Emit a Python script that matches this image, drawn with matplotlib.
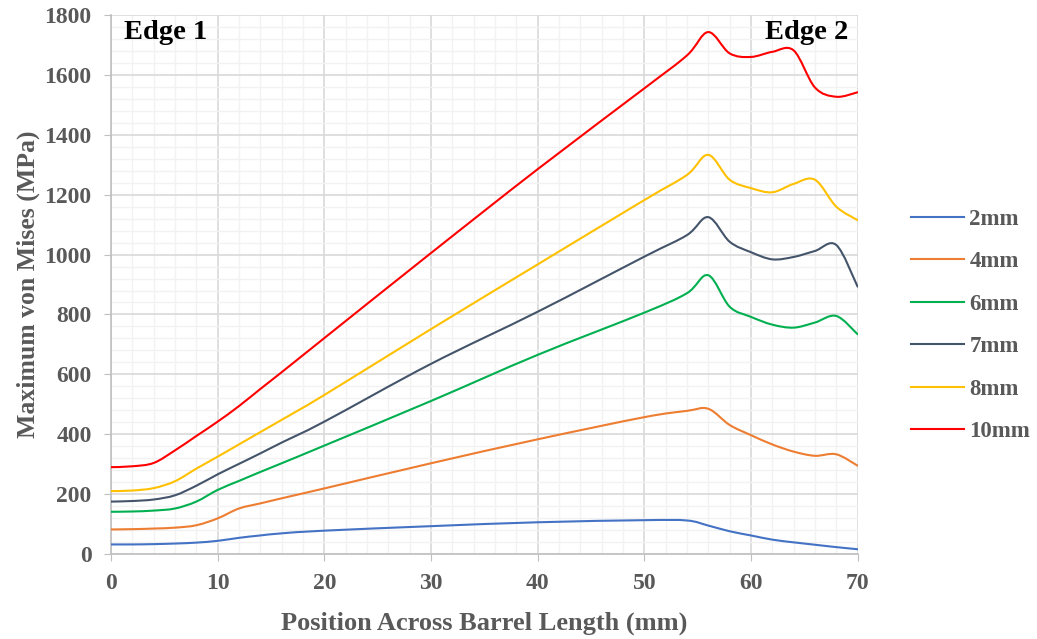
import matplotlib
matplotlib.use("Agg")
import matplotlib.pyplot as plt
from matplotlib.path import Path
from matplotlib.patches import PathPatch
from matplotlib.lines import Line2D
from matplotlib.ticker import MultipleLocator

# position across the barrel (mm)
position = [0, 2, 4, 6, 8, 10, 12, 14, 16, 20, 30, 40, 50,
            54, 56, 58, 60, 62, 64, 66, 68, 70]

# maximum von Mises stress (MPa) for each wall thickness
s_2mm = [32, 32, 33, 35, 38, 44, 54, 62, 69, 78, 93, 106, 113,
         112, 95, 76, 62, 48, 39, 31, 23, 16]
s_4mm = [82, 83, 85, 88, 96, 119, 152, 169, 186, 219, 303, 383, 457,
         478, 485, 431, 397, 366, 342, 328, 333, 295]
s_6mm = [141, 142, 145, 152, 175, 214, 244, 274, 303, 362, 511, 665, 806,
         871, 931, 826, 792, 766, 756, 773, 795, 734]
s_7mm = [175, 177, 182, 196, 228, 266, 301, 336, 372, 442, 635, 809, 993,
         1065, 1125, 1043, 1008, 984, 992, 1012, 1032, 893]
s_8mm = [210, 212, 220, 243, 285, 325, 366, 407, 448, 531, 751, 967, 1182,
         1266, 1333, 1250, 1222, 1208, 1236, 1250, 1160, 1115]
s_10mm = [290, 293, 304, 346, 394, 442, 494, 551, 607, 721, 1005, 1285, 1555,
          1665, 1743, 1672, 1660, 1677, 1682, 1558, 1527, 1542]

labels = ["2mm", "4mm", "6mm", "7mm", "8mm", "10mm"]
series = [s_2mm, s_4mm, s_6mm, s_7mm, s_8mm, s_10mm]
colors = ["#4472C4", "#ED7D31", "#00B050", "#44546A", "#FFC000", "#FF0000"]


def smooth_path(xs, ys):
    # Catmull-Rom style bezier through every point (spreadsheet "smoothed line")
    pts = list(zip(xs, ys))
    verts = [pts[0]]
    codes = [Path.MOVETO]
    n = len(pts)
    for i in range(n - 1):
        p0 = pts[i - 1] if i > 0 else pts[i]
        p1 = pts[i]
        p2 = pts[i + 1]
        p3 = pts[i + 2] if i + 2 < n else pts[i + 1]
        c1 = (p1[0] + (p2[0] - p0[0]) / 6, p1[1] + (p2[1] - p0[1]) / 6)
        c2 = (p2[0] - (p3[0] - p1[0]) / 6, p2[1] - (p3[1] - p1[1]) / 6)
        verts += [c1, c2, p2]
        codes += [Path.CURVE4] * 3
    return Path(verts, codes)


grey = "#595959"
plt.rcParams["font.family"] = ["Liberation Serif", "DejaVu Serif"]
plt.rcParams["font.weight"] = "bold"

fig = plt.figure(figsize=(10.37, 6.39), dpi=100)
ax = fig.add_axes([0.107, 0.133, 0.720, 0.8435])

handles = []
for lab, ys, c in zip(labels, series, colors):
    patch = PathPatch(smooth_path(position, ys), facecolor="none",
                      edgecolor=c, lw=1.5, zorder=3, capstyle="round")
    ax.add_patch(patch)
    handles.append(Line2D([], [], color=c, lw=1.5, label=lab))

ax.set_xlim(0, 70)
ax.set_ylim(0, 1800)
ax.xaxis.set_major_locator(MultipleLocator(10))
ax.xaxis.set_minor_locator(MultipleLocator(2))
ax.yaxis.set_major_locator(MultipleLocator(200))
ax.yaxis.set_minor_locator(MultipleLocator(40))
ax.grid(which="major", color="#D9D9D9", lw=1.2, zorder=1)
ax.grid(which="minor", color="#F2F2F2", lw=1.0, zorder=0)
ax.set_axisbelow(True)

for side in ["top", "right"]:
    ax.spines[side].set_visible(False)
for side in ["left", "bottom"]:
    ax.spines[side].set_color("#BFBFBF")
    ax.spines[side].set_linewidth(1.2)

ax.tick_params(which="major", direction="out", length=5, color="#BFBFBF",
               labelsize=17, labelcolor=grey)
ax.tick_params(axis="y", which="major", pad=9)
ax.tick_params(axis="x", which="major", pad=9)
ax.tick_params(which="minor", length=0)
for t in ax.get_xticklabels() + ax.get_yticklabels():
    t.set_fontweight("bold")

ax.set_xlabel("Position Across Barrel Length (mm)", fontsize=19,
              color=grey, fontweight="bold", labelpad=12)
ax.set_ylabel("Maximum von Mises (MPa)", fontsize=18.5,
              color=grey, fontweight="bold", labelpad=3)

ax.text(0.018, 0.99, "Edge 1", transform=ax.transAxes, ha="left", va="top",
        fontsize=20.5, fontweight="bold", color="black")
ax.text(0.987, 0.99, "Edge 2", transform=ax.transAxes, ha="right", va="top",
        fontsize=20.5, fontweight="bold", color="black")

leg = fig.legend(handles=handles, loc="center left",
                 bbox_to_anchor=(0.8785, 0.4906), frameon=False,
                 borderpad=0, borderaxespad=0,
                 fontsize=16.5, handlelength=2.3, handletextpad=0.25,
                 labelspacing=0.93)
for t in leg.get_texts():
    t.set_color(grey)
    t.set_fontweight("bold")

fig.savefig("out.png", dpi=100)
